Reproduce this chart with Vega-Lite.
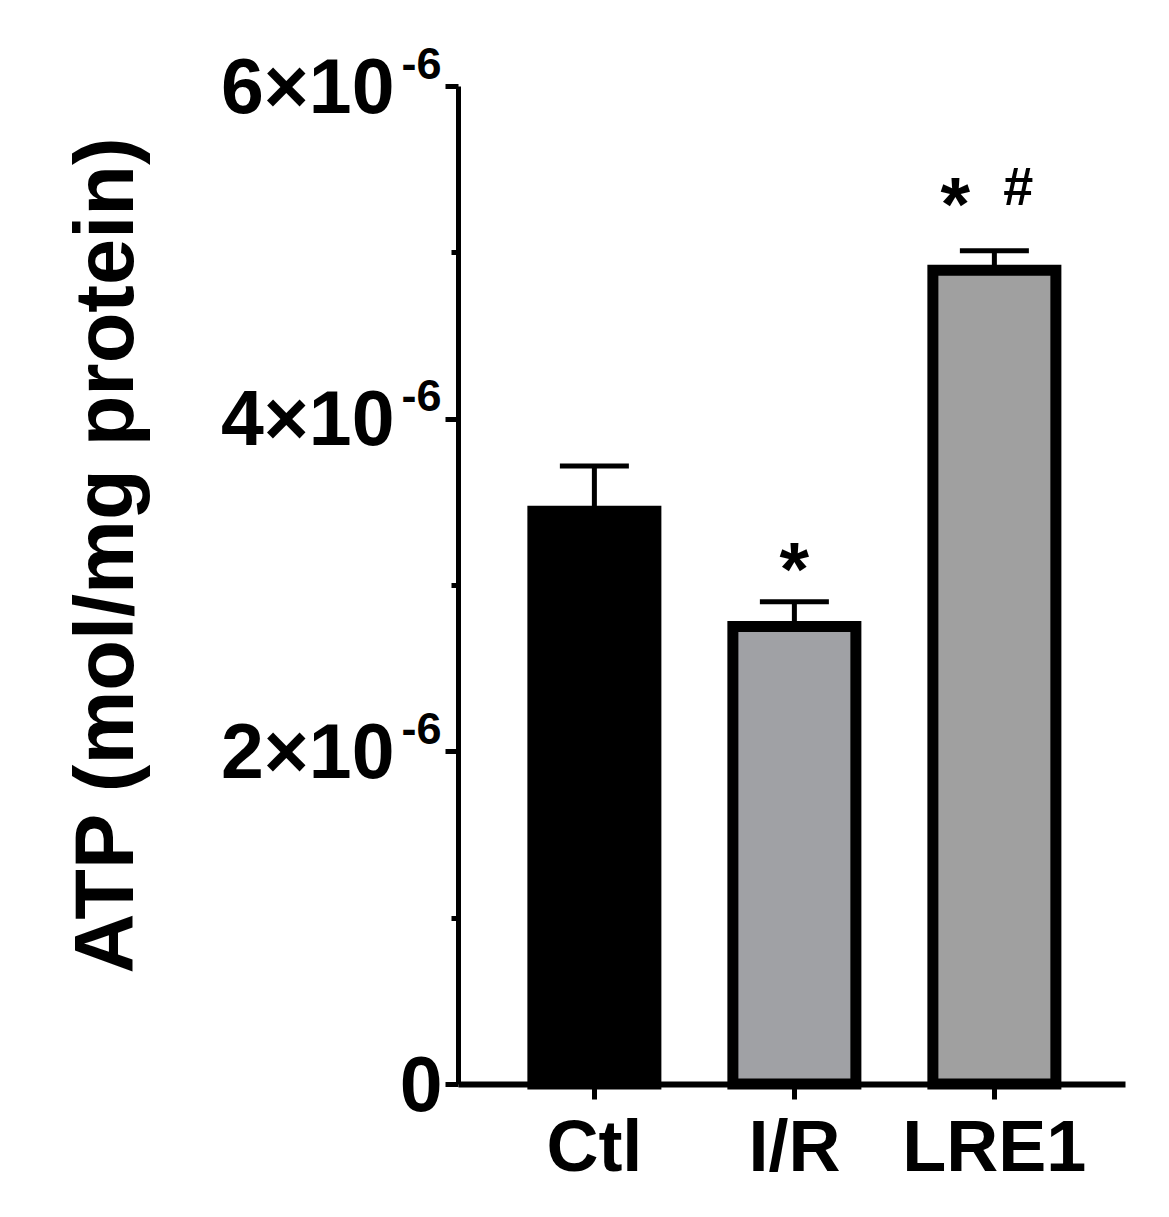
{
  "$schema": "https://vega.github.io/schema/vega-lite/v6.json",
  "width": 667,
  "height": 998,
  "autosize": {"type": "none"},
  "padding": {"left": 458, "top": 86, "right": 44, "bottom": 133},
  "background": "white",
  "config": {"view": {"stroke": null}, "font": "Liberation Sans"},
  "datasets": {
    "bars": [
      {"group": "Ctl", "mean": 3.443e-6, "upper": 3.716e-6},
      {"group": "I/R", "mean": 2.751e-6, "upper": 2.90e-6},
      {"group": "LRE1", "mean": 4.892e-6, "upper": 5.009e-6}
    ],
    "notes": [
      {"group": "I/R", "label": "*", "pos": 2.94e-6},
      {"group": "LRE1", "label": "*", "pos": 5.135e-6},
      {"group": "LRE1", "label": "#", "pos": 5.286e-6}
    ]
  },
  "encoding": {
    "x": {
      "field": "group",
      "type": "nominal",
      "sort": ["Ctl", "I/R", "LRE1"],
      "scale": {"domain": ["Ctl", "I/R", "LRE1"], "paddingInner": 0.385, "paddingOuter": 0.36, "align": 0.52},
      "axis": {
        "title": null,
        "labelAngle": 0,
        "labelLimit": 0,
        "labelFont": "Liberation Sans",
        "labelFontSize": 72,
        "labelFontWeight": "bold",
        "labelColor": "black",
        "labelPadding": 14,
        "labelBaseline": "top",
        "tickSize": 15,
        "tickWidth": 5,
        "tickColor": "black",
        "domainWidth": 6,
        "domainColor": "black"
      }
    }
  },
  "resolve": {"scale": {"y": "shared"}, "axis": {"y": "independent"}},
  "layer": [
    {
      "data": {"name": "bars"},
      "mark": {"type": "rule", "strokeWidth": 5, "color": "black", "opacity": 1},
      "encoding": {
        "y": {
          "field": "mean",
          "type": "quantitative",
          "scale": {"domain": [0, 6e-6], "nice": false, "zero": true},
          "axis": {
            "orient": "left",
            "values": [0, 1e-6, 2e-6, 3e-6, 4e-6, 5e-6, 6e-6],
            "labelExpr": "datum.value == 0 ? '0' : (round(datum.value * 1e6) % 2 == 1 ? '' : round(datum.value * 1e6) + '×10')",
            "grid": false,
            "labelLimit": 0,
            "labelFont": "Liberation Sans",
            "labelFontSize": 77,
            "labelFontWeight": "bold",
            "labelColor": "black",
            "labelBaseline": "middle",
            "labelOffset": 3,
            "labelPadding": {"condition": {"test": "datum.value == 0", "value": 3}, "value": 51},
            "tickSize": {"condition": {"test": "round(datum.value * 1e6) % 2 == 1", "value": 7}, "value": 13},
            "tickWidth": 5,
            "tickColor": "black",
            "domainWidth": 5,
            "domainColor": "black",
            "title": "ATP (mol/mg protein)",
            "titleFont": "Liberation Sans",
            "titleFontSize": 83,
            "titleFontWeight": "bold",
            "titleColor": "black",
            "titleX": -351,
            "titleY": 469,
            "titleAngle": -90,
            "titleAlign": "center",
            "titleBaseline": "middle"
          }
        },
        "y2": {"field": "upper"}
      }
    },
    {
      "data": {"name": "bars"},
      "mark": {"type": "tick", "size": 69, "thickness": 5, "color": "black", "opacity": 1, "orient": "horizontal"},
      "encoding": {
        "y": {
          "field": "upper",
          "type": "quantitative",
          "axis": {
            "orient": "left",
            "title": null,
            "values": [2e-6, 4e-6, 6e-6],
            "labelExpr": "'-6'",
            "grid": false,
            "domain": false,
            "ticks": false,
            "tickSize": 0,
            "labelLimit": 0,
            "labelFont": "Liberation Sans",
            "labelFontSize": 45,
            "labelFontWeight": "bold",
            "labelColor": "black",
            "labelBaseline": "alphabetic",
            "labelOffset": -8,
            "labelPadding": 17
          }
        }
      }
    },
    {
      "data": {"name": "bars"},
      "mark": {"type": "bar", "stroke": "black", "strokeWidth": 11, "opacity": 1},
      "encoding": {
        "y": {"field": "mean", "type": "quantitative", "axis": null},
        "color": {
          "field": "group",
          "type": "nominal",
          "scale": {"domain": ["Ctl", "I/R", "LRE1"], "range": ["#000000", "#a0a1a5", "#a0a0a0"]},
          "legend": null
        }
      }
    },
    {
      "data": {"name": "notes"},
      "transform": [{"filter": "datum.group == 'I/R'"}],
      "mark": {"type": "text", "fontSize": 76, "fontWeight": "bold", "font": "Liberation Sans", "color": "black", "baseline": "alphabetic", "align": "center"},
      "encoding": {
        "y": {"field": "pos", "type": "quantitative", "axis": null},
        "text": {"field": "label"}
      }
    },
    {
      "data": {"name": "notes"},
      "transform": [{"filter": "datum.group == 'LRE1' && datum.label == '*'"}],
      "mark": {"type": "text", "fontSize": 76, "fontWeight": "bold", "font": "Liberation Sans", "color": "black", "baseline": "alphabetic", "align": "center", "dx": -39},
      "encoding": {
        "y": {"field": "pos", "type": "quantitative", "axis": null},
        "text": {"field": "label"}
      }
    },
    {
      "data": {"name": "notes"},
      "transform": [{"filter": "datum.label == '#'"}],
      "mark": {"type": "text", "fontSize": 54, "fontWeight": "bold", "font": "Liberation Sans", "color": "black", "baseline": "alphabetic", "align": "center", "dx": 24},
      "encoding": {
        "y": {"field": "pos", "type": "quantitative", "axis": null},
        "text": {"field": "label"}
      }
    }
  ]
}
